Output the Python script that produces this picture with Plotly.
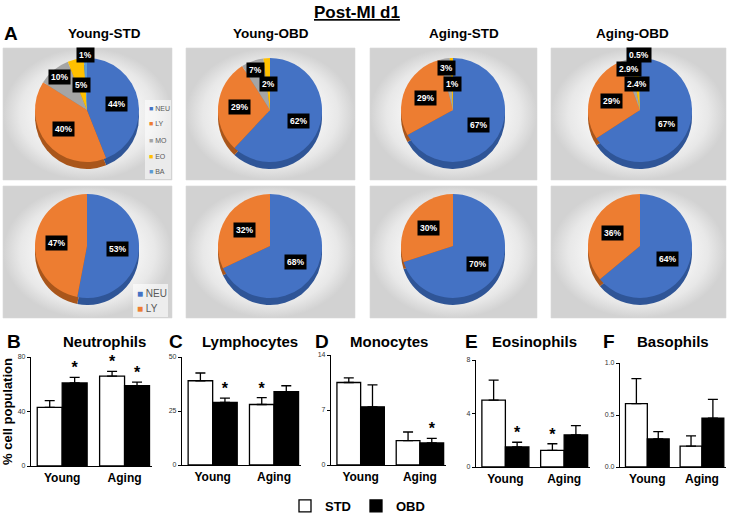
import math
import plotly.graph_objects as go

W, H = 734, 516
FONT = "Arial, Liberation Sans, Helvetica, sans-serif"

# ---------------- data ----------------
cell_types = ["NEU", "LY", "MO", "EO", "BA"]
cell_colors = ["#4472C4", "#ED7D31", "#A5A5A5", "#FFC000", "#5B9BD5"]
cell_shadow = ["#2F5597", "#A9561B", "#7B7B7B", "#BF9000", "#41719C"]

pie_groups = ["Young-STD", "Young-OBD", "Aging-STD", "Aging-OBD"]
young_std_all = [44, 40, 10, 5, 1]
young_obd_all = [62, 29, 7, 2, 0]
aging_std_all = [67, 29, 3, 1, 0]
aging_obd_all = [67, 29, 2.9, 2.4, 0.5]

neu_ly = ["NEU", "LY"]
young_std_nl = [53, 47]
young_obd_nl = [68, 32]
aging_std_nl = [70, 30]
aging_obd_nl = [64, 36]

ages = ["Young", "Aging"]
diets = ["STD", "OBD"]

neut_std, neut_std_err = [43, 66], [5, 3.5]
neut_obd, neut_obd_err = [61, 59], [4, 2.5]
neut_std_sig, neut_obd_sig = [False, True], [True, True]
neut_ticks, neut_ticktext = [0, 40, 80], ["0", "40", "80"]

lymph_std, lymph_std_err = [39, 28], [3.6, 3.2]
lymph_obd, lymph_obd_err = [29, 34], [2, 2.7]
lymph_std_sig, lymph_obd_sig = [False, True], [True, False]
lymph_ticks, lymph_ticktext = [0, 25, 50], ["0", "25", "50"]

mono_std, mono_std_err = [10.5, 3.1], [0.6, 1.1]
mono_obd, mono_obd_err = [7.4, 2.8], [2.8, 0.6]
mono_std_sig, mono_obd_sig = [False, False], [False, True]
mono_ticks, mono_ticktext = [0, 7, 14], ["0", "7", "14"]

eos_std, eos_std_err = [5.0, 1.24], [1.5, 0.5]
eos_obd, eos_obd_err = [1.5, 2.4], [0.35, 0.7]
eos_std_sig, eos_obd_sig = [False, True], [True, False]
eos_ticks, eos_ticktext = [0, 4, 8], ["0", "4", "8"]

baso_std, baso_std_err = [0.61, 0.20], [0.24, 0.10]
baso_obd, baso_obd_err = [0.27, 0.47], [0.07, 0.18]
baso_std_sig, baso_obd_sig = [False, False], [False, False]
baso_ticks, baso_ticktext = [0, 0.5, 1.0], ["0.0", "0.5", "1.0"]

panel_letters = ["B", "C", "D", "E", "F"]
panel_titles = ["Neutrophils", "Lymphocytes", "Monocytes", "Eosinophils", "Basophils"]

# ---------------- layout helpers ----------------
def px_x(x):
    return x / W

def px_y(y):
    return 1 - y / H

def note(x, y, text, size, color="black", xanchor="center", **kw):
    fig.add_annotation(x=px_x(x), y=px_y(y), xref="paper", yref="paper",
                       xanchor=xanchor, yanchor="middle", showarrow=False, text=text,
                       font=dict(size=size, color=color, family=FONT), **kw)

fig = go.Figure()

# background panels for the pies (radial grey gradient)
boxes_x = [(3, 172), (186, 355), (370, 537), (551, 726)]
boxes_y = [(48, 180), (186, 318)]
for (y0, y1) in boxes_y:
    for (x0, x1) in boxes_x:
        fig.add_trace(go.Scatter(
            x=[x0, x1, x1, x0, x0], y=[y0, y0, y1, y1, y0],
            mode="lines", fill="toself",
            fillgradient=dict(type="radial",
                              colorscale=[[0, "#ffffff"], [0.5, "#f8f8f8"], [0.8, "#e8e8e8"], [1, "#d2d2d2"]]),
            line=dict(color="#d8d8d8", width=0.6),
            hoverinfo="skip", showlegend=False, xaxis="x", yaxis="y"))

pie_cx = [87, 270, 453, 640]
row_cy = [110, 246]
pie_r = 52
depth = 7

def add_pie(values, labels, cx, cy):
    n = len(values)
    dom_x = [px_x(cx - pie_r), px_x(cx + pie_r)]
    fig.add_trace(go.Pie(
        values=values, labels=labels, sort=False, direction="clockwise",
        domain=dict(x=dom_x, y=[px_y(cy + depth + pie_r), px_y(cy + depth - pie_r)]),
        marker=dict(colors=cell_shadow[:n]), textinfo="none",
        hoverinfo="skip", showlegend=False))
    fig.add_trace(go.Pie(
        values=values, labels=labels, sort=False, direction="clockwise",
        domain=dict(x=dom_x, y=[px_y(cy + pie_r), px_y(cy - pie_r)]),
        marker=dict(colors=cell_colors[:n]), textinfo="none",
        hovertemplate="%{label}: %{value}%<extra></extra>", showlegend=False))
    total = sum(values)
    cum = 0
    k_small = 0
    for v in values:
        if v <= 0:
            continue
        theta = 2 * math.pi * (cum + v / 2) / total
        if v / total >= 0.15:
            f = 0.58
        else:
            f = [0.82, 0.5, 1.06][k_small % 3]
            k_small += 1
        lx = cx + pie_r * f * math.sin(theta)
        ly = cy - pie_r * f * math.cos(theta)
        note(lx, ly, f"<b>{v:g}%</b>", 8.5, color="white", bgcolor="black", borderpad=2)
        cum += v

top_vals = [young_std_all, young_obd_all, aging_std_all, aging_obd_all]
bot_vals = [young_std_nl, young_obd_nl, aging_std_nl, aging_obd_nl]
for i in range(4):
    add_pie(top_vals[i], cell_types, pie_cx[i], row_cy[0])
    add_pie(bot_vals[i], neu_ly, pie_cx[i], row_cy[1])

# small pie legends (inset, as in the original Excel charts)
fig.add_shape(type="rect", xref="paper", yref="paper",
              x0=px_x(145), x1=px_x(171), y0=px_y(179), y1=px_y(100),
              fillcolor="rgba(255,255,255,0.55)", line=dict(width=0), layer="above")
for i, (lab, col) in enumerate(zip(cell_types, cell_colors)):
    note(147, 108 + 16 * i, f'<span style="color:{col}">■</span> {lab}', 7,
         color="#595959", xanchor="left")
fig.add_shape(type="rect", xref="paper", yref="paper",
              x0=px_x(133), x1=px_x(168), y0=px_y(317), y1=px_y(284),
              fillcolor="rgba(255,255,255,0.6)", line=dict(width=0), layer="above")
for i, (lab, col) in enumerate(zip(neu_ly, cell_colors)):
    note(135, 293 + 15 * i, f'<span style="color:{col}">■</span> {lab}', 10,
         color="#595959", xanchor="left")

# pie titles and headings
note(357, 12, "<b><u>Post-MI d1</u></b>", 17)
note(11, 33, "<b>A</b>", 19)
pie_title_x = [104, 271, 464, 632]
for t, x in zip(pie_groups, pie_title_x):
    note(x, 33, f"<b>{t}</b>", 13.5)

# ---------------- bar panels ----------------
panels = [
    (neut_std, neut_std_err, neut_obd, neut_obd_err, neut_std_sig, neut_obd_sig, neut_ticks, neut_ticktext),
    (lymph_std, lymph_std_err, lymph_obd, lymph_obd_err, lymph_std_sig, lymph_obd_sig, lymph_ticks, lymph_ticktext),
    (mono_std, mono_std_err, mono_obd, mono_obd_err, mono_std_sig, mono_obd_sig, mono_ticks, mono_ticktext),
    (eos_std, eos_std_err, eos_obd, eos_obd_err, eos_std_sig, eos_obd_sig, eos_ticks, eos_ticktext),
    (baso_std, baso_std_err, baso_obd, baso_obd_err, baso_std_sig, baso_obd_sig, baso_ticks, baso_ticktext),
]
panel_px = [(31, 152, 466, 357), (182, 301, 465, 357), (331, 446, 465, 355),
            (476, 590, 467, 360), (620, 726, 467, 363)]
letter_x = [14, 176, 322, 471, 609]
title_x = [104, 250, 389, 534, 673]

layout_axes = {}
xpos = list(range(len(ages)))
bw = 0.4
for i, (s, se, o, oe, ssig, osig, tv, tt) in enumerate(panels):
    n = i + 2
    xa, ya = f"x{n}", f"y{n}"
    fig.add_trace(go.Bar(
        x=xpos, y=s, width=bw, offset=-bw, name=diets[0], legendgroup=diets[0],
        showlegend=(i == 0),
        marker=dict(color="white", line=dict(color="black", width=1.3)),
        error_y=dict(type="data", array=se, arrayminus=[0] * len(se), symmetric=False,
                     color="black", thickness=1.3, width=5),
        xaxis=xa, yaxis=ya))
    fig.add_trace(go.Bar(
        x=xpos, y=o, width=bw, offset=0, name=diets[1], legendgroup=diets[1],
        showlegend=(i == 0),
        marker=dict(color="black", line=dict(color="black", width=1.3)),
        error_y=dict(type="data", array=oe, arrayminus=[0] * len(oe), symmetric=False,
                     color="black", thickness=1.3, width=5),
        xaxis=xa, yaxis=ya))
    # significance stars
    fig.add_trace(go.Scatter(
        x=[p - bw / 2 for p in xpos] + [p + bw / 2 for p in xpos],
        y=[v + e for v, e in zip(s, se)] + [v + e for v, e in zip(o, oe)],
        text=["*" if f else "" for f in ssig] + ["*" if f else "" for f in osig],
        mode="text", textposition="top center",
        textfont=dict(size=16, color="black", family=FONT, weight="bold"),
        cliponaxis=False, hoverinfo="skip", showlegend=False, xaxis=xa, yaxis=ya))

    x0, x1, yb, yt = panel_px[i]
    layout_axes[f"xaxis{n}"] = dict(
        domain=[px_x(x0), px_x(x1)], anchor=ya, range=[-0.5, 1.44],
        tickvals=xpos, ticktext=ages, showline=True, linecolor="black", linewidth=1.2,
        ticks="", showgrid=False, zeroline=False, fixedrange=True, ticklabelstandoff=0,
        tickfont=dict(size=12, color="black", family=FONT, weight="bold"))
    yax = dict(
        domain=[px_y(yb), px_y(yt)], anchor=xa, range=[0, tv[-1]],
        tickvals=tv, ticktext=tt, ticks="outside", ticklen=3, tickwidth=1,
        tickcolor="black", showline=True, linecolor="black", linewidth=1.2,
        showgrid=False, zeroline=False, fixedrange=True,
        tickfont=dict(size=7, color="#333333", family=FONT))
    if i == 0:
        yax["title"] = dict(text="% cell population", standoff=4,
                            font=dict(size=13, color="black", family=FONT, weight="bold"))
    layout_axes[f"yaxis{n}"] = yax

    note(letter_x[i], 341, f"<b>{panel_letters[i]}</b>", 19)
    note(title_x[i], 341, f"<b>{panel_titles[i]}</b>", 15)

fig.update_layout(
    template="none",
    width=W, height=H,
    margin=dict(l=0, r=0, t=0, b=0, autoexpand=False),
    paper_bgcolor="white", plot_bgcolor="rgba(0,0,0,0)",
    barmode="overlay",
    xaxis=dict(domain=[0, 1], range=[0, W], visible=False, fixedrange=True),
    yaxis=dict(domain=[0, 1], range=[H, 0], visible=False, fixedrange=True),
    showlegend=True,
    legend=dict(orientation="h", x=px_x(285), y=px_y(506), xanchor="left", yanchor="middle",
                font=dict(size=13, color="black", family=FONT, weight="bold"),
                bgcolor="rgba(0,0,0,0)", itemclick=False, itemdoubleclick=False),
    font=dict(family=FONT),
    **layout_axes,
)

# remove the browser's default 8px body margin so the figure sits at the window origin
fig.write_html("out.html", config={"displayModeBar": False},
               post_script="document.body.style.margin='0';")
